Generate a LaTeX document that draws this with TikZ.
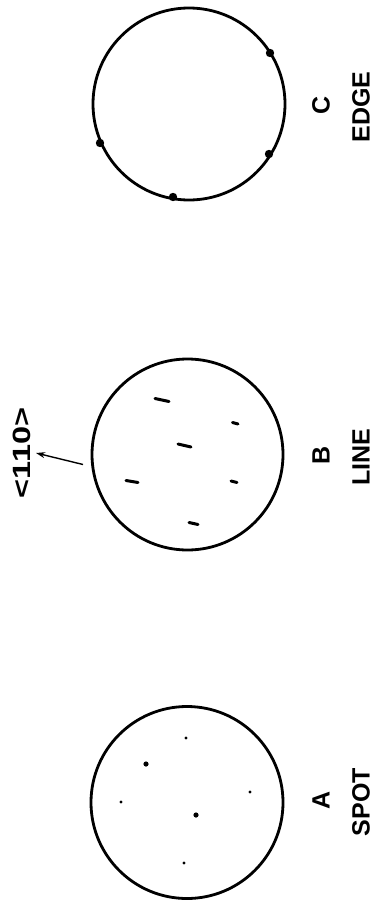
\documentclass[tikz,border=0pt]{standalone}
\usepackage{fontspec}
\setmainfont{Liberation Sans}
\usetikzlibrary{arrows.meta}
\begin{document}
\begin{tikzpicture}[x=1pt,y=-1pt,
  ring/.style={draw,line width=2.8pt},
  lbl/.style={font=\fontsize{25}{28}\selectfont\bfseries,rotate=90,inner sep=0pt},
  streak/.style={line width=3pt,line cap=round},
  spotS/.style={fill,radius=1.6},
  spotL/.style={fill,radius=2.6},
  edgedot/.style={fill,radius=4.2}]
\useasboundingbox (0,0) rectangle (379,902);
% circle C
\node[ring,circle,minimum size=192pt,inner sep=0pt] (cC) at (189,104) {};
\fill[edgedot] (270,53) circle;
\fill[edgedot] (100,143) circle;
\fill[edgedot] (269,154) circle;
\fill[edgedot] (173,197) circle;
\node[lbl] (tC) at (321,105) {C};
\node[lbl] (tEdge) at (361,107) {EDGE};
% circle B
\node[ring,circle,minimum size=191pt,inner sep=0pt] (cB) at (187.5,454.5) {};
\draw[streak] (155,398.5) -- (169,401.5);
\draw[streak] (232.5,422.5) -- (238,424);
\draw[streak] (178,444) -- (191,447);
\draw[streak] (126,480.5) -- (138,482.5);
\draw[streak] (231,481) -- (237,482.5);
\draw[streak] (189,522.5) -- (198,524.5);
\node[lbl] (tB) at (321,455) {B};
\node[lbl] (tLine) at (361,457) {LINE};
\node[lbl,xscale=1.3] (t110) at (22,453) {<110>};
\coordinate (arS) at (83,464.5);
\coordinate (arE) at (36,453);
\draw[line width=1.4pt,-{Stealth[length=9pt,width=6pt]}] (arS) -- (arE);
% circle A
\node[ring,circle,minimum size=192pt,inner sep=0pt] (cA) at (187,802.5) {};
\fill[spotS] (186,738) circle;
\fill[spotL] (146,764) circle;
\fill[spotS] (121,802) circle;
\fill[spotS] (250,792) circle;
\fill[spotL] (196,815) circle;
\fill[spotS] (184,863) circle;
\node[lbl] (tA) at (321,800) {A};
\node[lbl] (tSpot) at (361,802) {SPOT};
\end{tikzpicture}
\end{document}
